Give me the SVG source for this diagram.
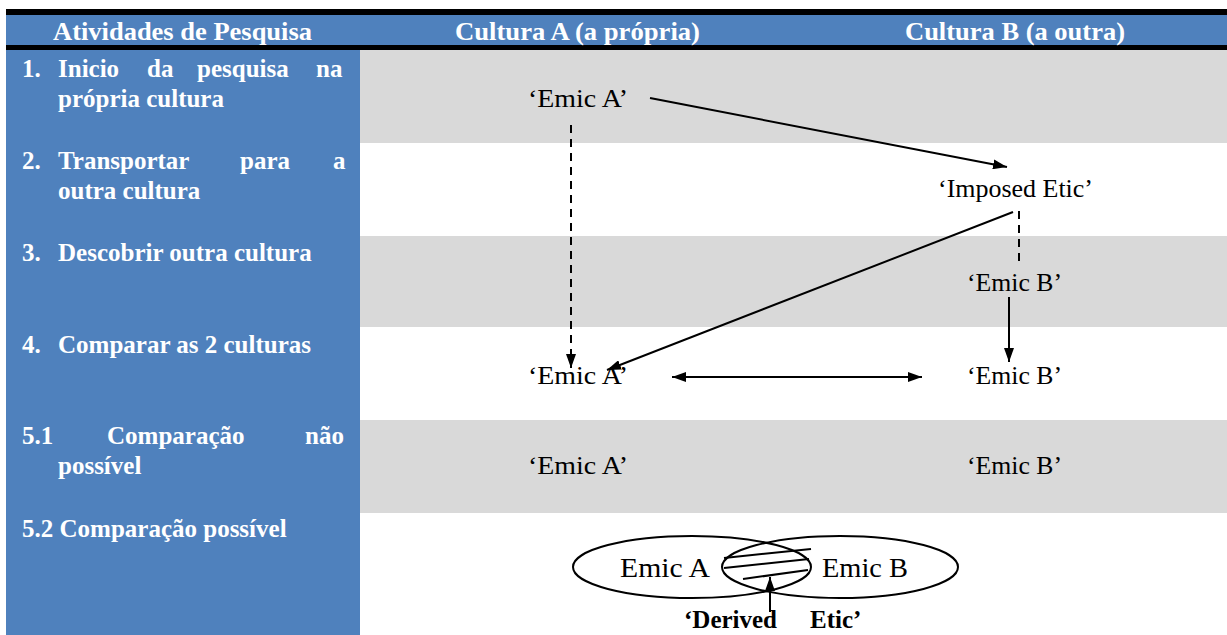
<svg xmlns="http://www.w3.org/2000/svg" width="1227" height="635" viewBox="0 0 1227 635">
  <style>
    .hd { font-family: "Liberation Serif", serif; font-weight: bold; font-size: 25px; fill: #ffffff; }
    .lc { font-family: "Liberation Serif", serif; font-weight: bold; font-size: 25px; fill: #ffffff; }
    .tx { font-family: "Liberation Serif", "Times New Roman", Times, "DejaVu Serif", serif; font-weight: 400; font-size: 25px; fill: #000000; }
    .vn { font-family: "Liberation Serif", "Times New Roman", Times, "DejaVu Serif", serif; font-weight: 400; font-size: 28px; fill: #000000; }
    .dv { font-family: "Liberation Serif", serif; font-weight: bold; font-size: 25px; fill: #000000; }
    .ln { stroke: #000000; stroke-width: 2; fill: none; }
    .dash { stroke-dasharray: 8 6; }
  </style>
  <defs>
    <marker id="arr" viewBox="0 0 14 10" refX="14" refY="5" markerWidth="14" markerHeight="10" markerUnits="userSpaceOnUse" orient="auto-start-reverse">
      <path d="M0,0 L14,5 L0,10 z" fill="#000000"/>
    </marker>
  </defs>

  <rect width="1227" height="635" fill="#ffffff"/>

  <!-- table background -->
  <g id="table">
    <rect x="6" y="9" width="1221" height="6" fill="#000000"/>
    <rect x="6" y="15" width="1221" height="30" fill="#4f81bd"/>
    <rect x="6" y="45" width="1221" height="5" fill="#000000"/>
    <rect x="6" y="50" width="354" height="585" fill="#4f81bd"/>
    <rect x="360" y="50" width="867" height="93" fill="#d9d9d9"/>
    <rect x="360" y="236" width="867" height="91" fill="#d9d9d9"/>
    <rect x="360" y="420" width="867" height="93" fill="#d9d9d9"/>
  </g>

  <!-- header -->
  <g id="header">
    <text class="hd" x="53" y="40" textLength="259" lengthAdjust="spacingAndGlyphs">Atividades de Pesquisa</text>
    <text class="hd" x="455" y="40" textLength="245" lengthAdjust="spacingAndGlyphs">Cultura A (a própria)</text>
    <text class="hd" x="905" y="40" textLength="220" lengthAdjust="spacingAndGlyphs">Cultura B (a outra)</text>
  </g>

  <!-- research activities -->
  <g id="activities">
    <text class="lc" y="77"><tspan x="22">1.</tspan><tspan x="58">Inicio</tspan><tspan x="147">da</tspan><tspan x="197">pesquisa</tspan><tspan x="316">na</tspan></text>
    <text class="lc" x="58" y="107">própria cultura</text>
    <text class="lc" y="169"><tspan x="22">2.</tspan><tspan x="58">Transportar</tspan><tspan x="240">para</tspan><tspan x="333">a</tspan></text>
    <text class="lc" x="58" y="199">outra cultura</text>
    <text class="lc" y="261"><tspan x="22">3.</tspan><tspan x="58">Descobrir outra cultura</tspan></text>
    <text class="lc" y="353"><tspan x="22">4.</tspan><tspan x="58">Comparar as 2 culturas</tspan></text>
    <text class="lc" y="444"><tspan x="22">5.1</tspan><tspan x="107">Comparação</tspan><tspan x="305">não</tspan></text>
    <text class="lc" x="58" y="474">possível</text>
    <text class="lc" x="22" y="537">5.2 Comparação possível</text>
  </g>

  <!-- nodes -->
  <g id="emicA1"><text class="tx" x="528" y="107" textLength="100" lengthAdjust="spacingAndGlyphs">‘Emic A’</text></g>
  <g id="imposedEtic"><text class="tx" x="938" y="197" textLength="155" lengthAdjust="spacingAndGlyphs">‘Imposed Etic’</text></g>
  <g id="emicB3"><text class="tx" x="967" y="291" textLength="95" lengthAdjust="spacingAndGlyphs">‘Emic B’</text></g>
  <g id="emicA4"><text class="tx" x="528" y="384" textLength="100" lengthAdjust="spacingAndGlyphs">‘Emic A’</text></g>
  <g id="emicB4"><text class="tx" x="967" y="384" textLength="95" lengthAdjust="spacingAndGlyphs">‘Emic B’</text></g>
  <g id="emicA5"><text class="tx" x="528" y="474" textLength="100" lengthAdjust="spacingAndGlyphs">‘Emic A’</text></g>
  <g id="emicB5"><text class="tx" x="967" y="474" textLength="95" lengthAdjust="spacingAndGlyphs">‘Emic B’</text></g>

  <!-- overlap of the two cultures -->
  <g id="venn">
    <ellipse class="ln" cx="692" cy="567" rx="119" ry="31"/>
    <ellipse class="ln" cx="840" cy="567" rx="118" ry="31"/>
    <line class="ln" x1="724" y1="558" x2="811" y2="549"/>
    <line class="ln" x1="724" y1="568" x2="809" y2="559"/>
    <line class="ln" x1="743" y1="579" x2="808" y2="570"/>
    <text class="vn" x="620" y="577" textLength="90" lengthAdjust="spacingAndGlyphs">Emic A</text>
    <text class="vn" x="822" y="577" textLength="86" lengthAdjust="spacingAndGlyphs">Emic B</text>
  </g>
  <g id="derivedEtic">
    <text class="dv" y="628"><tspan x="684">‘Derived</tspan><tspan x="810">Etic’</tspan></text>
  </g>

  <!-- connectors -->
  <g id="connectors">
    <line class="ln" x1="650" y1="98" x2="1007" y2="167" marker-end="url(#arr)"/>
    <line class="ln dash" x1="571" y1="125" x2="571" y2="368" marker-end="url(#arr)"/>
    <line class="ln dash" x1="1019" y1="211" x2="1019" y2="262"/>
    <line class="ln" x1="1013" y1="212" x2="607" y2="370" marker-end="url(#arr)"/>
    <line class="ln" x1="1009" y1="297" x2="1009" y2="362" marker-end="url(#arr)"/>
    <line class="ln" x1="672" y1="377" x2="922" y2="377" marker-start="url(#arr)" marker-end="url(#arr)"/>
    <line class="ln" x1="770" y1="612" x2="770" y2="577" marker-end="url(#arr)"/>
  </g>
</svg>
